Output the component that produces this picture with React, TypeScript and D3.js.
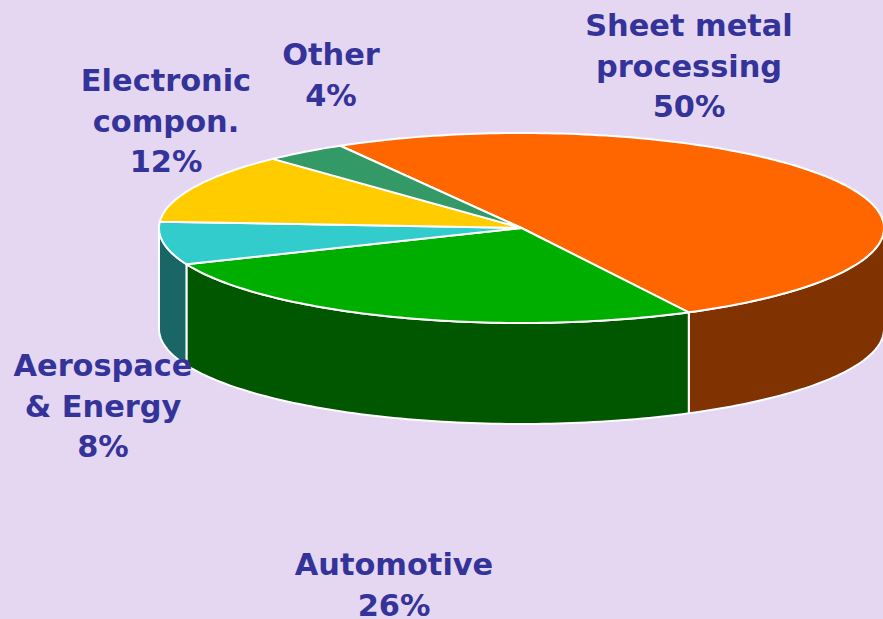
import React from "react";
import * as d3 from "d3";

const categories = ["Sheet metal processing", "Automotive", "Aerospace & Energy", "Electronic compon.", "Other"];
const sliceShares = [50.7, 26.4, 7.3, 11.9, 3.7];
const topColors = ["#FF6600", "#00AE00", "#33CCCC", "#FFCC00", "#339966"];
const sideColors = ["#803300", "#005700", "#1A6666", "#806600", "#1A4D33"];
const labelLines = [
  ["Sheet metal", "processing", "50%"],
  ["Automotive", "26%"],
  ["Aerospace", "& Energy", "8%"],
  ["Electronic", "compon.", "12%"],
  ["Other", "4%"],
];
const labelAnchors = [
  { x: 689, y: 36 },
  { x: 394, y: 575 },
  { x: 103, y: 376 },
  { x: 166, y: 91 },
  { x: 331, y: 65 },
];

const W = 883, H = 619;
const cx = 521.5, cy = 228, rx = 362.5, ry = 95, depth = 101;
const lineGap = 40.5;

const px = d3.scaleLinear().domain([-1, 1]).range([cx - rx, cx + rx]);
const py = d3.scaleLinear().domain([-1, 1]).range([cy - ry, cy + ry]);
const pt = (a: number, dy = 0): [number, number] => [px(Math.sin(a)), py(-Math.cos(a)) + dy];
const line = d3.line();

const samples = (a0: number, a1: number) => {
  const n = Math.max(2, Math.ceil(Math.abs(a1 - a0) / 0.02));
  return d3.range(n + 1).map((i) => a0 + ((a1 - a0) * i) / n);
};

const pie = d3.pie<number>().sort(null).startAngle(-Math.PI / 6).endAngle((11 * Math.PI) / 6);
const arcs = pie(sliceShares);

export default function App() {
  const walls = arcs
    .map((d, i) => {
      const a0 = Math.max(d.startAngle, Math.PI / 2);
      const a1 = Math.min(d.endAngle, (3 * Math.PI) / 2);
      if (a1 <= a0) return null;
      const s = samples(a0, a1);
      const pts = [...s.map((a) => pt(a)), ...s.slice().reverse().map((a) => pt(a, depth))];
      return <path key={i} d={line(pts) + "Z"} fill={sideColors[i]} stroke="#fff" strokeWidth={2} strokeLinejoin="round" />;
    })
    .filter(Boolean);
  const tops = arcs.map((d, i) => {
    const pts: [number, number][] = [[cx, cy], ...samples(d.startAngle, d.endAngle).map((a) => pt(a))];
    return <path key={i} d={line(pts) + "Z"} fill={topColors[i]} stroke="#fff" strokeWidth={2} strokeLinejoin="round" />;
  });
  return (
    <svg width={W} height={H} viewBox={`0 0 ${W} ${H}`} style={{ position: "absolute", left: 0, top: 0, background: "#E5D7F1" }}>
      <title>{categories.join(", ")}</title>
      {walls}
      {tops}
      {labelLines.map((ls, i) => (
        <text key={i} textAnchor="middle" fontFamily="DejaVu Sans" fontWeight="bold" fontSize={30.4} fill="#333399">
          {ls.map((t, j) => (
            <tspan key={j} x={labelAnchors[i].x} y={labelAnchors[i].y + j * lineGap}>{t}</tspan>
          ))}
        </text>
      ))}
    </svg>
  );
}
